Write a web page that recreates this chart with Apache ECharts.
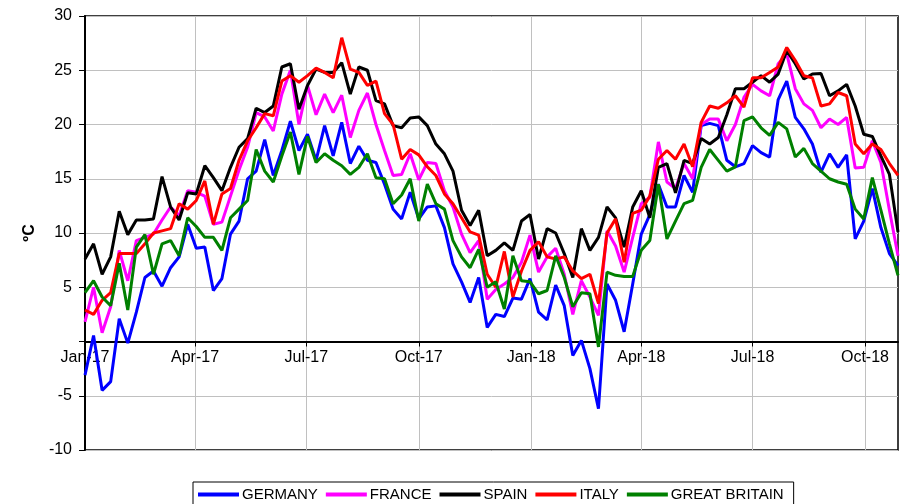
<!DOCTYPE html>
<html>
<head>
<meta charset="utf-8">
<script src="https://cdn.jsdelivr.net/npm/echarts@6/dist/echarts.min.js"></script>
<style>
html,body{margin:0;padding:0;background:#fff;}
#chart{width:915px;height:504px;}
</style>
</head>
<body>
<div id="chart"></div>
<script>
// Weekly observations, day offsets from 1 Jan 2017 (one per week)
const weekCount = 96;
const weekDays = Array.from({length: weekCount}, (_, i) => i * 7);

// Quarter tick positions (days since 1 Jan 2017) and labels
const tickDays = [0, 90, 181, 273, 365, 455, 546, 638];
const tickLabels = ['Jan-17', 'Apr-17', 'Jul-17', 'Oct-17', 'Jan-18', 'Apr-18', 'Jul-18', 'Oct-18'];

const germany = [-3.1,0.55,-4.5,-3.7,2.1,-0.15,2.7,5.9,6.5,5.1,6.8,7.8,10.8,8.6,8.7,4.7,5.8,9.9,11.1,15.0,15.7,18.6,15.3,17.6,20.3,17.6,19.1,16.7,19.9,17.1,20.2,16.4,18.0,16.7,16.5,14.5,12.2,11.3,13.75,11.3,12.4,12.5,10.5,7.15,5.5,3.6,5.9,1.3,2.5,2.3,4.0,3.9,5.8,2.7,2.0,5.2,3.3,-1.3,0.1,-2.5,-6.2,5.3,3.8,0.9,5.3,9.9,11.7,14.5,12.4,12.4,15.3,13.75,19.9,20.1,19.9,16.7,16.1,16.4,18.05,17.4,17.0,22.3,24.0,20.65,19.6,18.2,15.6,17.3,16.05,17.2,9.45,11.1,14.1,10.5,8.1,7.0];
const france = [1.8,5.0,0.8,3.2,8.4,5.6,9.3,9.6,9.9,11.2,12.4,11.6,13.9,13.75,13.4,10.8,11.0,13.4,15.8,17.9,21.1,20.7,19.4,22.8,25.0,20.0,23.6,20.9,22.8,21.1,22.7,18.8,21.3,22.9,20.0,17.6,15.3,15.4,17.3,14.9,16.5,16.4,13.9,12.4,9.9,8.2,9.3,3.9,4.8,5.3,5.9,7.3,9.8,6.4,7.8,8.6,6.2,2.5,5.6,4.1,2.4,10.2,8.8,6.4,9.6,12.7,13.3,18.4,14.7,14.1,16.4,15.0,20.0,20.5,20.5,18.5,20.0,22.5,23.7,23.1,22.65,25.6,26.5,23.3,21.9,21.3,19.7,20.5,20.0,20.65,16.0,16.05,18.5,16.5,12.1,7.9];
const spain = [7.6,9.0,6.2,7.8,12.0,9.85,11.2,11.2,11.3,15.2,12.4,11.2,13.7,13.6,16.2,15.1,13.9,16.05,17.9,18.7,21.5,21.1,21.7,25.3,25.6,21.4,23.6,25.1,24.8,24.8,25.7,22.8,25.3,25.0,22.2,21.9,19.9,19.7,20.6,20.7,19.9,18.2,17.3,15.7,12.1,10.7,12.1,7.9,8.4,9.1,8.4,11.1,11.7,7.6,10.4,10.0,8.1,5.9,10.4,8.4,9.6,12.4,11.4,8.7,12.4,13.9,11.4,16.05,16.4,13.7,16.7,16.4,18.7,18.2,18.8,20.9,23.3,23.3,23.9,24.5,23.9,24.65,26.8,25.6,24.2,24.65,24.7,22.65,23.1,23.7,21.7,19.1,18.9,17.1,15.4,10.1];
const italy = [2.9,2.5,3.8,4.5,8.1,8.1,8.1,9.0,10.0,10.2,10.4,12.7,12.2,13.0,14.8,10.8,13.6,14.1,16.7,18.5,19.7,21.0,20.8,24.0,24.5,23.9,24.5,25.2,24.8,24.3,28.0,25.1,24.8,23.6,24.0,21.0,20.0,16.8,17.7,17.2,16.1,15.3,13.6,12.7,11.4,10.1,9.8,6.2,5.0,8.3,4.1,6.5,8.4,9.2,7.8,7.6,7.8,6.5,5.8,6.2,3.5,10.0,11.3,7.3,11.8,12.1,13.4,16.8,17.6,16.8,18.2,16.1,20.2,21.7,21.5,22.0,22.65,21.6,24.3,24.3,24.8,25.3,27.1,25.9,24.5,24.3,21.7,21.9,22.95,22.65,18.2,17.3,18.2,17.7,16.4,15.3];
const greatBritain = [4.5,5.6,4.1,3.3,7.2,2.9,8.7,9.85,6.2,9.0,9.3,7.9,11.4,10.6,9.6,9.6,8.4,11.4,12.2,13.0,17.7,15.7,14.7,17.1,19.3,15.4,18.9,16.5,17.3,16.7,16.2,15.4,16.05,17.3,15.1,15.0,12.7,13.5,15.0,11.1,14.5,12.7,12.2,9.3,7.8,6.8,8.5,5.0,5.5,3.0,7.9,5.6,5.5,4.4,4.7,7.9,5.9,3.2,4.5,4.4,-0.5,6.4,6.1,6.0,6.0,8.4,9.3,14.5,9.45,11.1,12.7,13.0,16.05,17.7,16.7,15.7,16.1,20.35,20.7,19.7,19.0,20.2,19.6,17.0,17.8,16.4,15.7,15.0,14.7,14.5,12.2,11.3,15.1,12.1,9.0,6.1];

const seriesDefs = [
  {name: 'GERMANY', values: germany, color: '#0000FF'},
  {name: 'FRANCE', values: france, color: '#FF00FF'},
  {name: 'SPAIN', values: spain, color: '#000000'},
  {name: 'ITALY', values: italy, color: '#FF0000'},
  {name: 'GREAT BRITAIN', values: greatBritain, color: '#008000'}
];

const FONT = 'Liberation Sans, Arial, sans-serif';
const yMin = -10, yMax = 30;
const gridTop = 16, gridBottom = 54, chartH = 504;
const plotH = chartH - gridTop - gridBottom;
// shift the x axis (line, ticks, labels) up from the plot bottom to the y = 0 level
const zeroOffset = -plotH * (0 - yMin) / (yMax - yMin);

const chart = echarts.init(document.getElementById('chart'), null, {renderer: 'canvas'});

chart.setOption({
  animation: false,
  backgroundColor: '#fff',
  grid: {
    left: 85, right: 17, top: gridTop, bottom: gridBottom,
    show: true, borderColor: '#000', borderWidth: 1.5, backgroundColor: 'transparent'
  },
  legend: {
    left: 193, top: 482,
    data: seriesDefs.map(s => s.name),
    icon: 'rect',
    itemWidth: 41, itemHeight: 4, itemGap: 8,
    padding: [5, 10, 5, 5],
    borderColor: '#000', borderWidth: 1,
    textStyle: {fontFamily: FONT, fontSize: 15, color: '#000', padding: [0, 0, 0, -2]}
  },
  xAxis: {
    type: 'value',
    min: 0, max: 665,
    offset: zeroOffset,
    axisLine: {onZero: false, lineStyle: {color: '#000', width: 2}},
    axisTick: {show: true, length: 5, inside: false, customValues: tickDays, lineStyle: {color: '#000', width: 1}},
    axisLabel: {
      customValues: tickDays,
      margin: 8,
      fontFamily: FONT, fontSize: 16, color: '#000',
      formatter: v => { const k = tickDays.indexOf(v); return k >= 0 ? tickLabels[k] : ''; }
    },
    splitLine: {show: true, lineStyle: {color: '#c0c0c0', width: 1}}
  },
  yAxis: {
    type: 'value',
    min: yMin, max: yMax, interval: 5,
    name: 'ºC',
    nameLocation: 'middle',
    nameRotate: 90,
    nameGap: 47,
    nameTextStyle: {fontFamily: FONT, fontSize: 16, fontWeight: 'bold', color: '#000'},
    axisLine: {show: true, lineStyle: {color: '#000', width: 2}},
    axisTick: {show: true, length: 6, inside: false, lineStyle: {color: '#000', width: 1}},
    axisLabel: {
      margin: 13, fontFamily: FONT, fontSize: 16, color: '#000',
      formatter: v => v === 0 ? '' : String(v)
    },
    splitLine: {show: true, lineStyle: {color: '#c0c0c0', width: 1}}
  },
  series: seriesDefs.map(s => ({
    name: s.name,
    type: 'line',
    data: s.values.map((v, i) => [weekDays[i], v]),
    symbol: 'none',
    lineStyle: {color: s.color, width: 3},
    itemStyle: {color: s.color},
    z: 3
  }))
});
</script>
</body>
</html>
